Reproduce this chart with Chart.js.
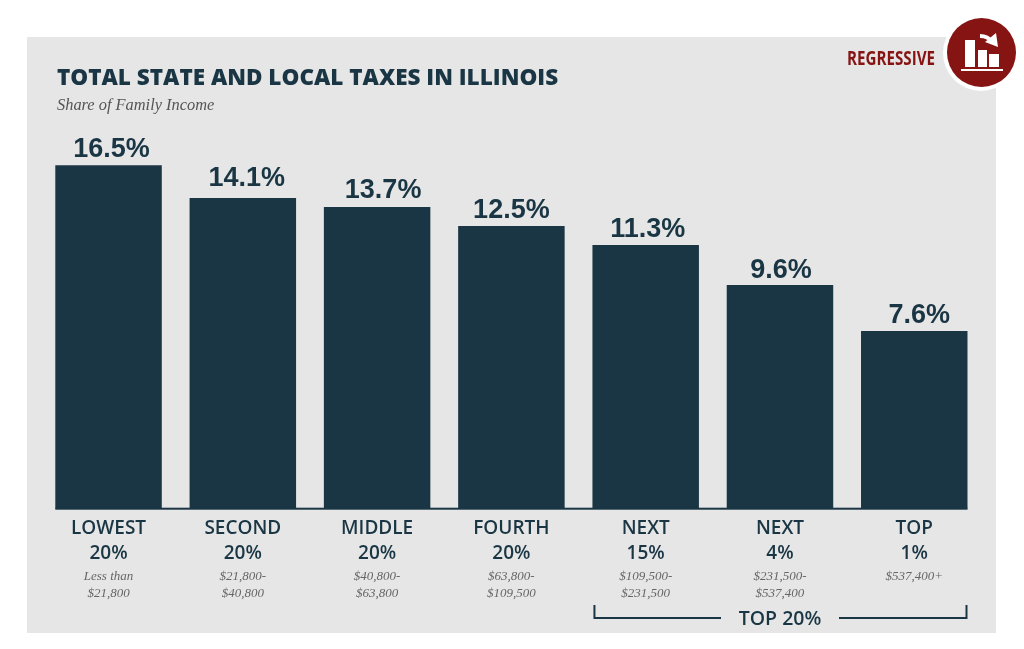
<!DOCTYPE html>
<html>
<head>
<meta charset="utf-8">
<title>Total State and Local Taxes in Illinois</title>
<script src="https://cdn.jsdelivr.net/npm/chart.js@4"></script>
<style>
  html, body { margin: 0; padding: 0; background: #fff; }
  #wrap { width: 1024px; height: 649px; }
</style>
</head>
<body>
<div id="wrap"><canvas id="myChart" width="1024" height="649"></canvas></div>
<script>
const categories = [["LOWEST", "20%"], ["SECOND", "20%"], ["MIDDLE", "20%"], ["FOURTH", "20%"], ["NEXT", "15%"], ["NEXT", "4%"], ["TOP", "1%"]];
const incomeRanges = [["Less than", "$21,800"], ["$21,800-", "$40,800"], ["$40,800-", "$63,800"], ["$63,800-", "$109,500"], ["$109,500-", "$231,500"], ["$231,500-", "$537,400"], ["$537,400+"]];
const shareLabels = ["16.5%", "14.1%", "13.7%", "12.5%", "11.3%", "9.6%", "7.6%"];
// the picture's bars are not proportional to their printed labels,
// so these are the bar lengths as read off it, in axis units
const barLengths = [16.5, 14.92, 14.49, 13.58, 12.67, 10.75, 8.54];

const DARK = "#1a3644";
const RED = "#851413";
// the value labels are placed by hand in the original, off bar centre
const labelNudgeX = [3, 4, 6, 0, 2, 1, 5];
const labelNudgeY = [-1, -5, -2, -1, -1, 0, -1];

const decorations = {
  id: "decorations",
  beforeDraw(chart) {
    const ctx = chart.ctx;
    ctx.save();
    ctx.fillStyle = "#e6e6e6";
    ctx.fillRect(27, 37, 969, 596);

    ctx.textAlign = "left";
    ctx.textBaseline = "alphabetic";
    ctx.fillStyle = DARK;
    ctx.font = "800 22.5px 'Open Sans'";
    ctx.fillText("TOTAL STATE AND LOCAL TAXES IN ILLINOIS", 57, 85);
    ctx.fillStyle = "#555555";
    ctx.font = "italic 16.4px 'Liberation Serif'";
    ctx.fillText("Share of Family Income", 57, 110);

    // badge
    ctx.fillStyle = "#ffffff";
    ctx.beginPath(); ctx.arc(981, 53, 38, 0, Math.PI * 2); ctx.fill();
    ctx.fillStyle = RED;
    ctx.beginPath(); ctx.arc(981.5, 52.5, 34.5, 0, Math.PI * 2); ctx.fill();
    ctx.fillStyle = "#ffffff";
    ctx.fillRect(965, 40, 10, 27);
    ctx.fillRect(978, 50, 9, 17);
    ctx.fillRect(989, 54, 10, 13);
    ctx.fillRect(961, 69, 42, 2);
    ctx.strokeStyle = "#ffffff";
    ctx.lineWidth = 4;
    ctx.beginPath(); ctx.moveTo(980, 36); ctx.quadraticCurveTo(988, 36, 992, 42); ctx.stroke();
    ctx.beginPath(); ctx.moveTo(996, 33); ctx.lineTo(998, 47); ctx.lineTo(985, 42); ctx.closePath(); ctx.fill();

    // condensed badge word, squeezed to its width in the original
    ctx.fillStyle = RED;
    ctx.textAlign = "left";
    ctx.font = "bold 20px 'Open Sans'";
    const wordWidth = ctx.measureText("REGRESSIVE").width;
    ctx.translate(847, 65);
    ctx.scale(88 / wordWidth, 1);
    ctx.fillText("REGRESSIVE", 0, 0);
    ctx.restore();
  },
  afterDatasetsDraw(chart) {
    const ctx = chart.ctx;
    const bars = chart.getDatasetMeta(0).data;
    const half = bars[0].width / 2;
    const base = chart.scales.y.getPixelForValue(0);
    ctx.save();

    // baseline under the bars
    ctx.fillStyle = DARK;
    ctx.fillRect(bars[0].x - half, base - 1, bars[6].x - bars[0].x + half * 2, 2);

    // value labels
    ctx.textAlign = "center";
    ctx.textBaseline = "alphabetic";
    ctx.font = "bold 27px 'Liberation Sans'";
    bars.forEach((bar, i) => ctx.fillText(shareLabels[i], bar.x + labelNudgeX[i], bar.y - 7 + labelNudgeY[i]));

    // income ranges under the tick labels
    ctx.fillStyle = "#666666";
    ctx.font = "italic 13px 'Liberation Serif'";
    bars.forEach((bar, i) => {
      incomeRanges[i].forEach((line, j) => ctx.fillText(line, bar.x, 580 + j * 17));
    });

    // bracket for the top 20%
    const left = bars[4].x - half;
    const right = bars[6].x + half;
    ctx.strokeStyle = DARK;
    ctx.lineWidth = 2;
    ctx.beginPath();
    ctx.moveTo(left + 2, 605); ctx.lineTo(left + 2, 618); ctx.lineTo(721, 618);
    ctx.moveTo(839, 618); ctx.lineTo(right - 1, 618); ctx.lineTo(right - 1, 605);
    ctx.stroke();
    ctx.fillStyle = DARK;
    ctx.font = "600 19.5px 'Open Sans'";
    ctx.fillText("TOP 20%", 780, 625);
    ctx.restore();
  }
};

new Chart(document.getElementById("myChart"), {
  type: "bar",
  data: {
    labels: categories,
    datasets: [{
      data: barLengths,
      backgroundColor: DARK,
      categoryPercentage: 0.793,
      barPercentage: 1
    }]
  },
  options: {
    responsive: false,
    animation: false,
    layout: { padding: { left: 41.4, right: 42.6, top: 134, bottom: 74.9 } },
    plugins: { legend: { display: false }, tooltip: { enabled: false } },
    scales: {
      x: {
        grid: { display: false, drawTicks: false },
        border: { display: false },
        ticks: {
          color: DARK,
          padding: 8,
          maxRotation: 0,
          autoSkip: false,
          font: { family: "'Open Sans'", size: 19, weight: "600", lineHeight: 1.3 }
        }
      },
      y: { display: false, min: 0, max: 18 }
    }
  },
  plugins: [decorations]
});
</script>
</body>
</html>
